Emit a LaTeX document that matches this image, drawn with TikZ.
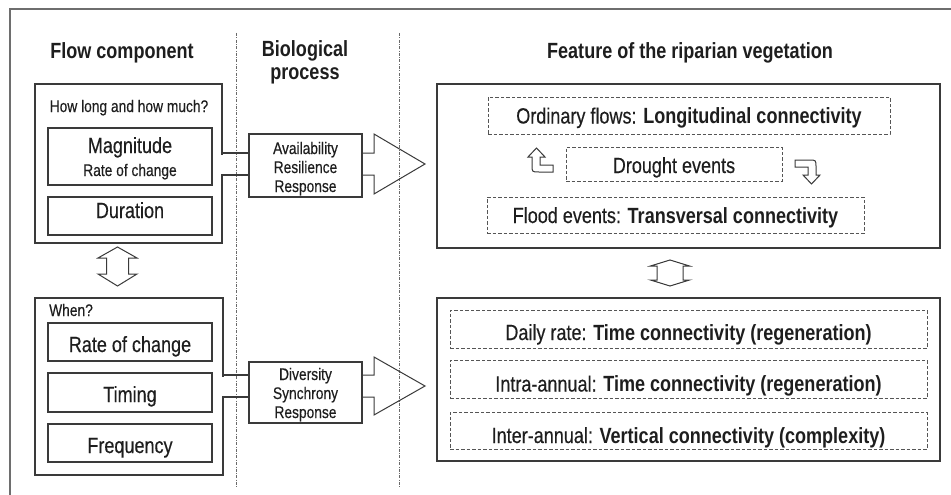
\documentclass[tikz,border=0pt]{standalone}
\usepackage{fontspec}
\setmainfont{Liberation Sans}[FakeStretch=0.82, UprightFeatures={FakeBold=0.35}]
\usetikzlibrary{calc}
\definecolor{linegray}{HTML}{3A3A3A}
\definecolor{dashgray}{HTML}{555555}
\definecolor{divgray}{HTML}{6A6A6A}
\definecolor{framegray}{HTML}{6E6E6E}
\definecolor{txtcol}{HTML}{1E1E1E}

\begin{document}
\begin{tikzpicture}[x=1pt,y=-1pt,
    panel/.style={draw=linegray, line width=1.3pt, inner sep=0pt},
    item/.style={draw=linegray, line width=1.1pt, inner sep=0pt},
    dashbox/.style={draw=dashgray, line width=0.9pt, dash pattern=on 3.5pt off 2pt, inner sep=0pt},
    divider/.style={divgray, line width=0.8pt, dash pattern=on 3pt off 1.5pt on 0.6pt off 1.5pt},
    hollow/.style={draw=linegray, line width=1pt, line join=miter},
    pipe/.style={linegray, line width=1.1pt},
    bigtxt/.style={font=\fontsize{22}{24}\selectfont, text=txtcol, anchor=base, inner sep=0pt},
    smalltxt/.style={font=\fontsize{16.8}{19}\selectfont, text=txtcol, anchor=base, inner sep=0pt},
    headtxt/.style={font=\bfseries\fontsize{22}{24}\selectfont, text=txtcol, anchor=base, inner sep=0pt}]

    % 画布与外框
    \useasboundingbox (0,0) rectangle (951,495);
    \fill[white] (0,0) rectangle (951,495);
    \draw[framegray, line width=1.2pt] (960,9) -- (10,9) -- (10,505);

    % 分栏虚线
    \coordinate (divA) at (236,33);
    \coordinate (divB) at (399,33);
    \draw[divider] (divA) -- (236,487);
    \draw[divider] (divB) -- (399,487);

    % 标题
    \node[headtxt] (tFlow) at (122,59) {Flow component};
    \node[headtxt] (tBio1) at (305,57) {Biological};
    \node[headtxt] (tBio2) at (305,80) {process};
    \node[headtxt] (tFeat) at (690,59) {Feature of the riparian vegetation};

    % 左上: 流量
    \node[panel, minimum width=187pt, minimum height=159pt] (flowA) at (128.5,163.5) {};
    \node[smalltxt] (qA) at (129,112) {How long and how much?};
    \node[item, minimum width=164pt, minimum height=57pt] (magBox) at (130,156.5) {};
    \node[bigtxt] (magT) at (130,153) {Magnitude};
    \node[smalltxt] (magT2) at (130,176) {Rate of change};
    \node[item, minimum width=164pt, minimum height=38pt] (durBox) at (130,216) {};
    \node[bigtxt] (durT) at (130,218) {Duration};

    % 双向箭头
    \draw[hollow] (117.5,247) -- (137,258) -- (128.5,258) -- (128.5,274) -- (137,274)
        -- (117.5,286) -- (98,274) -- (106.5,274) -- (106.5,258) -- (98,258) -- cycle;

    % 左下: 时间
    \node[panel, minimum width=188pt, minimum height=177pt] (flowB) at (129,386.5) {};
    \node[smalltxt, anchor=base west] (qB) at (49,316) {When?};
    \node[item, minimum width=164pt, minimum height=38pt] (rateBox) at (130,342) {};
    \node[bigtxt] (rateT) at (130,352) {Rate of change};
    \node[item, minimum width=164pt, minimum height=39pt] (timBox) at (130,392.5) {};
    \node[bigtxt] (timT) at (130,402) {Timing};
    \node[item, minimum width=164pt, minimum height=38pt] (freqBox) at (130,443) {};
    \node[bigtxt] (freqT) at (130,453) {Frequency};

    % 生物过程
    \node[item, minimum width=113pt, minimum height=63pt] (availBox) at (305.5,165.5) {};
    \node[smalltxt] (avT1) at (305.5,154) {Availability};
    \node[smalltxt] (avT2) at (305.5,173) {Resilience};
    \node[smalltxt] (avT3) at (305.5,192) {Response};
    \node[item, minimum width=113pt, minimum height=61pt] (divBox) at (305.5,392.5) {};
    \node[smalltxt] (dvT1) at (305.5,380) {Diversity};
    \node[smalltxt] (dvT2) at (305.5,399) {Synchrony};
    \node[smalltxt] (dvT3) at (305.5,418) {Response};

    % 管道 + 大箭头 (上)
    \fill[white] (220,154.5) rectangle (224,173.5);
    \draw[pipe] (flowA.east |- 0,153) -- (availBox.west |- 0,153);
    \draw[pipe] (flowA.east |- 0,175) -- (availBox.west |- 0,175);
    \draw[hollow] (availBox.east |- 0,153) -- (374,153) -- (374,134) -- (425,164)
        -- (374,194) -- (374,175) -- (availBox.east |- 0,175);

    % 管道 + 大箭头 (下)
    \fill[white] (221,376.5) rectangle (225,395.5);
    \draw[pipe] (flowB.east |- 0,375) -- (divBox.west |- 0,375);
    \draw[pipe] (flowB.east |- 0,397) -- (divBox.west |- 0,397);
    \draw[hollow] (divBox.east |- 0,375) -- (374,375) -- (374,357) -- (425,386)
        -- (374,415) -- (374,397) -- (divBox.east |- 0,397);

    % 右上: 连通性
    \node[panel, minimum width=503pt, minimum height=164pt] (featA) at (688.5,166) {};
    \node[dashbox, minimum width=402pt, minimum height=37pt] (ordBox) at (689,115.5) {};
    \node[bigtxt] (ordT) at (689,123.5) {Ordinary flows: \textbf{Longitudinal connectivity}};
    \node[dashbox, minimum width=216pt, minimum height=34pt] (drBox) at (674,164) {};
    \node[bigtxt] (drT) at (674,173) {Drought events};
    \node[dashbox, minimum width=377pt, minimum height=36pt] (flBox) at (675.5,215) {};
    \node[bigtxt] (flT) at (675.5,223) {Flood events: \textbf{Transversal connectivity}};

    % 弯箭头
    \draw[hollow] (536.5,148) -- (545,157) -- (540,157) -- (540,165) -- (553,165) -- (553,172)
        -- (539,172) .. controls (532,172) .. (532,165) -- (532,157) -- (528,157) -- cycle;
    \begin{scope}[rotate around={180:(674,166)}]
        \draw[hollow] (536.5,148) -- (545,157) -- (540,157) -- (540,165) -- (553,165) -- (553,172)
            -- (539,172) .. controls (532,172) .. (532,165) -- (532,157) -- (528,157) -- cycle;
    \end{scope}

    % 双向箭头 (右)
    \draw[hollow] (670,260) -- (689.5,266) -- (683,266) -- (683,280) -- (689.5,280)
        -- (670,286) -- (650.5,280) -- (657,280) -- (657,266) -- (650.5,266) -- cycle;

    % 右下: 时间连通性
    \node[panel, minimum width=503pt, minimum height=163pt] (featB) at (688.5,379.5) {};
    \node[dashbox, minimum width=477pt, minimum height=38pt] (dayBox) at (688.5,329) {};
    \node[bigtxt] (dayT) at (688.5,340) {Daily rate: \textbf{Time connectivity (regeneration)}};
    \node[dashbox, minimum width=477pt, minimum height=38pt] (intraBox) at (688.5,379) {};
    \node[bigtxt] (intraT) at (688.5,391.5) {Intra-annual: \textbf{Time connectivity (regeneration)}};
    \node[dashbox, minimum width=477pt, minimum height=37pt] (interBox) at (688.5,430.5) {};
    \node[bigtxt] (interT) at (688.5,443) {Inter-annual: \textbf{Vertical connectivity (complexity)}};

\end{tikzpicture}
\end{document}
